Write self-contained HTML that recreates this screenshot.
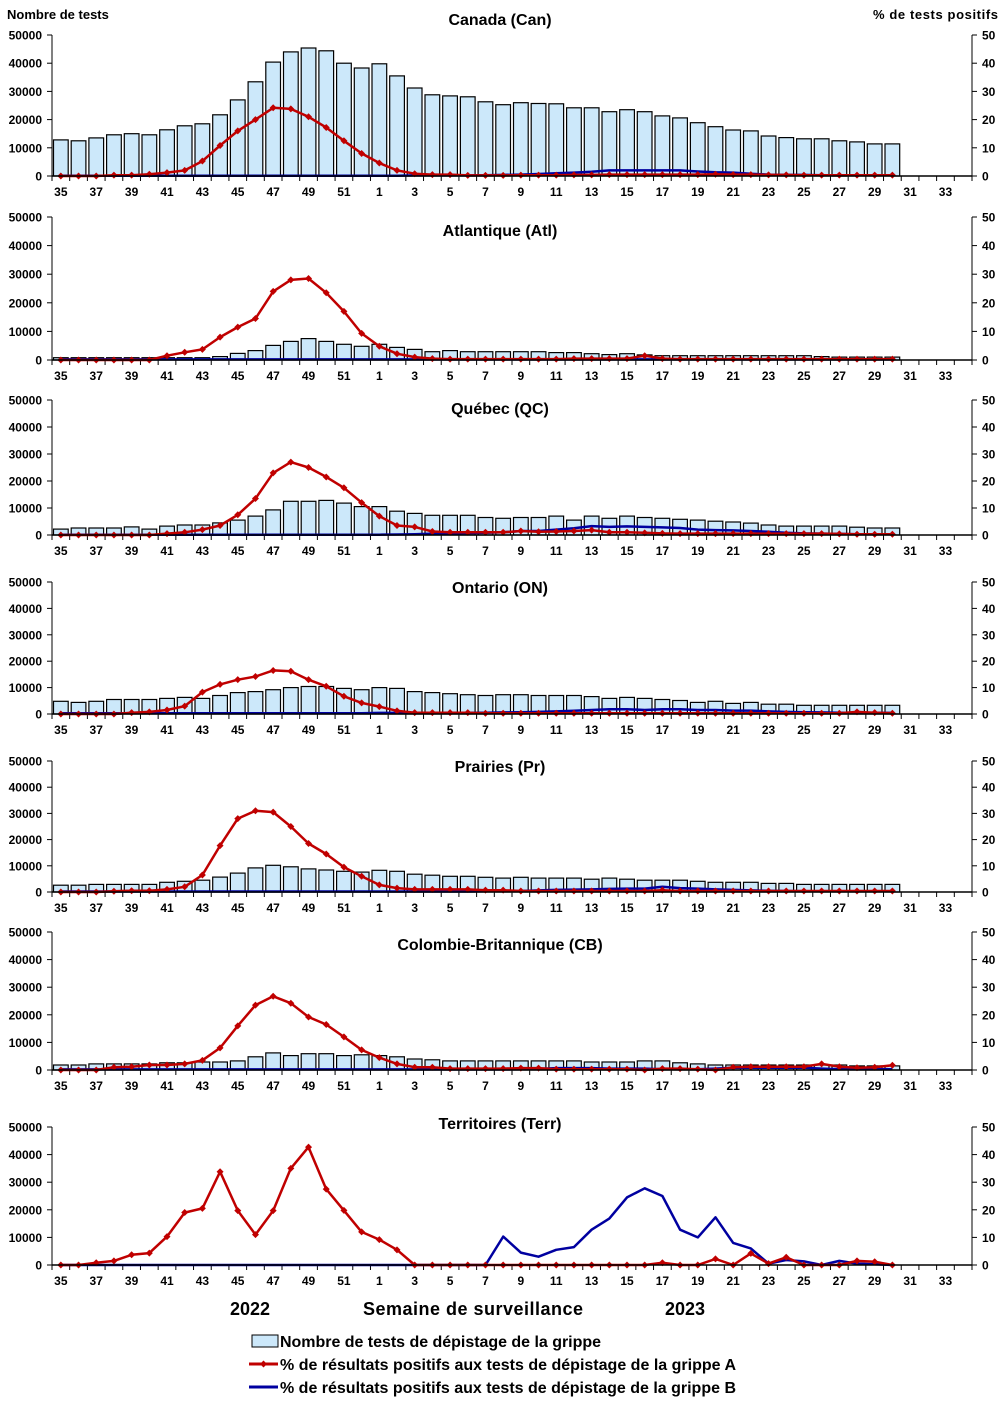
<!DOCTYPE html>
<html lang="fr"><head><meta charset="utf-8"><title>Tests de dépistage de la grippe</title>
<style>
html,body{margin:0;padding:0;background:#fff;}
svg{display:block;font-family:"Liberation Sans",Arial,sans-serif;}
</style></head>
<body>
<svg id="chart" width="1002" height="1411" viewBox="0 0 1002 1411" xmlns="http://www.w3.org/2000/svg">
<text x="7" y="19" font-size="13" font-weight="bold">Nombre de tests</text>
<text x="998" y="19" font-size="13" font-weight="bold" text-anchor="end" textLength="125">%  de tests positifs</text>
<text x="250" y="1315" font-size="18" font-weight="bold" text-anchor="middle">2022</text>
<text x="473" y="1315" font-size="18" font-weight="bold" text-anchor="middle" textLength="220">Semaine de surveillance</text>
<text x="685" y="1315" font-size="18" font-weight="bold" text-anchor="middle">2023</text>
<g>
<g>
<rect x="252" y="1335" width="26" height="12" fill="#cce8fa" stroke="#000" stroke-width="1"/>
<text x="280" y="1347" font-size="16" font-weight="bold" textLength="321">Nombre de tests de dépistage de la grippe</text>
</g>
<g>
<line x1="249" y1="1364" x2="278" y2="1364" stroke="#c00000" stroke-width="3"/>
<path d="M263.5 1360.5 L267 1364 L263.5 1367.5 L260 1364 Z" fill="#c00000"/>
<text x="280" y="1370" font-size="16" font-weight="bold" textLength="456">% de résultats positifs aux tests de dépistage de la grippe A</text>
</g>
<g>
<line x1="249" y1="1387" x2="278" y2="1387" stroke="#0000a0" stroke-width="3"/>
<text x="280" y="1393" font-size="16" font-weight="bold" textLength="456">% de résultats positifs aux tests de dépistage de la grippe B</text>
</g>
</g>
</svg>
<script>
// ---- data ----
const weekLabels = [35,36,37,38,39,40,41,42,43,44,45,46,47,48,49,50,51,52,1,2,3,4,5,6,7,8,9,10,11,12,13,14,15,16,17,18,19,20,21,22,23,24,25,26,27,28,29,30,31,32,33,34];
const leftTicks = [0,10000,20000,30000,40000,50000];
const rightTicks = [0,10,20,30,40,50];
const regionNames = ["Canada (Can)","Atlantique (Atl)","Québec (QC)","Ontario (ON)","Prairies (Pr)","Colombie-Britannique (CB)","Territoires (Terr)"];

const testsCan = [12800,12500,13500,14600,15000,14600,16400,17800,18500,21700,27000,33400,40400,44000,45400,44400,40000,38300,39800,35500,31200,28800,28400,28100,26300,25300,26000,25700,25600,24200,24200,22800,23500,22800,21300,20600,18900,17500,16300,16000,14200,13600,13200,13200,12500,12100,11400,11400];
const fluACan = [0,0,0,0.3,0.3,0.6,1.2,2,5.3,10.8,16,20,24.2,23.8,21,17.2,12.5,8,4.6,2,0.8,0.5,0.5,0.2,0.2,0.2,0.3,0.3,0.3,0.4,0.4,0.5,0.5,0.5,0.5,0.5,0.5,0.6,0.5,0.5,0.4,0.4,0.3,0.3,0.3,0.3,0.3,0.3];
const fluBCan = [0.1,0.1,0.1,0.1,0.1,0.1,0.1,0.1,0.1,0.1,0.1,0.1,0.1,0.1,0.1,0.1,0.1,0.1,0.1,0.1,0.2,0.2,0.2,0.2,0.3,0.4,0.5,0.7,1,1.2,1.5,2,2,2,2,2,1.6,1.3,1.2,0.8,0.5,0.4,0.4,0.3,0.3,0.3,0.3,0.3];

const testsAtl = [800,800,800,800,800,800,800,800,800,1200,2300,3300,5100,6500,7500,6500,5500,4800,5500,4400,3700,2900,3300,2900,2900,2900,2900,2900,2600,2600,2200,1900,2200,1800,1500,1500,1500,1500,1500,1500,1500,1500,1500,1200,1000,1000,1000,1000];
const fluAAtl = [0,0,0,0,0,0,1.5,2.7,3.7,8,11.5,14.5,24,28,28.5,23.5,17,9.3,4.8,2.2,1,0.5,0.3,0.3,0.3,0.3,0.3,0.3,0.3,0.5,0.5,0.5,0.5,1.5,0.5,0.3,0.3,0.3,0.3,0.3,0.3,0.3,0.3,0.3,0.3,0.3,0.3,0.3];
const fluBAtl = [0.2,0.2,0.2,0.2,0.2,0.2,0.2,0.2,0.2,0.2,0.2,0.2,0.2,0.2,0.2,0.2,0.2,0.2,0.2,0.2,0.2,0.2,0.2,0.2,0.2,0.2,0.2,0.2,0.2,0.2,0.2,0.2,0.2,0.2,0.2,0.2,0.2,0.2,0.2,0.2,0.2,0.2,0.2,0.2,0.2,0.2,0.2,0.2];

const testsQC = [2200,2600,2600,2600,3000,2200,3300,3700,3700,4500,5500,7000,9300,12500,12500,12800,11800,10500,10500,8800,8000,7300,7300,7300,6500,6200,6500,6500,7000,5500,7000,6200,7000,6500,6200,5800,5500,5100,4800,4400,3700,3300,3300,3300,3300,2900,2600,2600];
const fluAQC = [0,0,0,0,0,0,0.5,1,2,3.5,7.5,13.5,23,27,25,21.5,17.5,12,7,3.5,3,1.3,1,1,1,1,1.5,1.2,1.3,1.5,1.8,1,1,0.8,0.6,0.5,0.5,0.5,0.5,0.5,0.5,0.5,0.5,0.5,0.4,0.3,0.3,0.3];
const fluBQC = [0.1,0.1,0.1,0.1,0.1,0.1,0.1,0.1,0.1,0.1,0.1,0.1,0.1,0.1,0.1,0.1,0.1,0.1,0.1,0.2,0.3,0.5,0.6,0.7,0.8,1,1.5,1.5,2,2.5,3.3,3,3.2,3,2.8,2.6,2,1.8,1.7,1.5,1.2,0.8,0.6,0.5,0.4,0.3,0.3,0.3];

const testsON = [4800,4400,4800,5500,5500,5500,5900,6300,5900,7000,8100,8500,9200,10000,10400,10400,9700,9200,10000,9700,8500,8100,7700,7300,7000,7300,7300,7000,7000,7000,6600,5900,6300,5900,5500,5100,4400,4800,4000,4400,3700,3700,3300,3300,3300,3300,3300,3300];
const fluAON = [0,0,0,0,0.5,0.8,1.5,3,8.3,11.2,13,14.2,16.5,16.2,13,10.5,6.7,4.2,2.8,1.2,0.5,0.5,0.5,0.5,0.3,0.3,0.3,0.3,0.3,0.3,0.3,0.3,0.3,0.3,0.3,0.3,0.3,0.3,0.3,0.3,0.3,0.3,0.3,0.3,0.3,0.8,0.5,0.3];
const fluBON = [0.3,0.3,0.3,0.3,0.3,0.3,0.3,0.3,0.3,0.3,0.3,0.3,0.3,0.3,0.3,0.3,0.3,0.3,0.4,0.4,0.5,0.5,0.5,0.5,0.5,0.6,0.7,0.8,1,1.2,1.5,1.8,1.8,1.5,1.8,1.8,1.5,1.5,1.3,1.3,1,0.8,0.7,0.6,0.5,0.5,0.5,0.4];

const testsPr = [2600,2600,2900,2900,2900,2900,3700,4100,4500,5700,7200,9200,10200,9600,8800,8400,7900,7600,8300,7900,6800,6400,6000,6000,5600,5300,5600,5300,5300,5300,4900,5300,4900,4500,4500,4500,4100,3700,3700,3700,3300,3300,2900,2900,2900,2900,2900,2900];
const fluAPr = [0,0,0,0.3,0.5,0.5,1,2,6.5,17.7,28,31,30.5,25,18.5,14.5,9.5,6,2.7,1.5,1,1,1,1,0.7,0.7,0.4,0.4,0.4,0.4,0.4,0.4,0.4,0.4,0.7,0.4,0.4,0.4,0.4,0.4,0.4,0.4,0.4,0.4,0.4,0.4,0.4,0.4];
const fluBPr = [0.2,0.2,0.2,0.2,0.2,0.2,0.2,0.2,0.2,0.2,0.2,0.2,0.2,0.2,0.2,0.2,0.2,0.2,0.2,0.2,0.2,0.2,0.2,0.2,0.3,0.3,0.4,0.6,0.8,0.9,1,1.2,1.3,1.3,2,1.5,1.3,1,0.8,0.6,0.5,0.4,0.3,0.3,0.3,0.3,0.3,0.3];

const testsCB = [1800,1800,2200,2200,2200,2200,2600,2600,2900,2900,3300,4800,6200,5200,5900,5900,5200,5500,5200,4800,4000,3700,3300,3300,3300,3300,3300,3300,3300,3300,2900,2900,2900,3300,3300,2600,2200,1800,1800,1800,1800,1800,1800,1800,1800,1500,1500,1500];
const fluACB = [0,0,0,1,1.2,1.8,1.8,2.2,3.5,8,16,23.5,26.7,24.2,19.2,16.5,12,7.3,4.5,2.2,1,1,0.5,0.5,0.5,0.5,0.7,0.7,0.3,0.3,0.3,0.3,0.3,0,0.5,0.5,0.3,0,1,1.2,1.2,1.2,1.2,2.2,1.2,0.8,1,1.7];
const fluBCB = [0.2,0.2,0.2,0.2,0.2,0.2,0.2,0.2,0.2,0.2,0.2,0.2,0.2,0.2,0.2,0.2,0.2,0.2,0.2,0.2,0.2,0.2,0.2,0.2,0.2,0.2,0.3,0.4,0.7,0.7,0.7,0.5,0.5,0.5,0.3,0.3,0.3,0.5,0.8,0.8,0.8,0.8,0.8,0.5,0.3,0.3,0.3,0.3];

const testsTerr = [0,0,0,0,0,0,0,0,0,0,0,0,0,0,0,0,0,0,0,0,0,0,0,0,0,0,0,0,0,0,0,0,0,0,0,0,0,0,0,0,0,0,0,0,0,0,0,0];
const fluATerr = [0,0,0.8,1.5,3.7,4.3,10.3,19,20.5,33.8,19.7,11,19.7,35,42.7,27.5,19.8,12,9.2,5.5,0,0,0,0,0,0,0,0,0,0,0,0,0,0,0.8,0,0,2.2,0,4.2,0.5,2.8,0,0,0,1.5,1.2,0];
const fluBTerr = [0,0,0,0,0,0,0,0,0,0,0,0,0,0,0,0,0,0,0,0,0,0,0,0,0,10.3,4.5,3,5.5,6.5,12.8,16.8,24.5,27.8,25,12.8,10,17.3,8,6,0.5,1.8,1.3,0,1.5,0.5,0.3,0];

const testsSeries = [testsCan,testsAtl,testsQC,testsON,testsPr,testsCB,testsTerr];
const fluASeries = [fluACan,fluAAtl,fluAQC,fluAON,fluAPr,fluACB,fluATerr];
const fluBSeries = [fluBCan,fluBAtl,fluBQC,fluBON,fluBPr,fluBCB,fluBTerr];

// ---- layout ----
const panelTops = [35,217,400,582,761,932,1127];
const panelBottoms = [176,360,535,714,892,1070,1265];
const titleYs = [25,236,414,593,772,950,1129];
const X0 = 52, X1 = 972, NW = weekLabels.length, SW = (X1 - X0) / NW;
const NS = "http://www.w3.org/2000/svg";
const svg = document.getElementById('chart');
function mk(tag, attrs, parent){ const e=document.createElementNS(NS,tag); for(const k in attrs) e.setAttribute(k,attrs[k]); (parent||svg).appendChild(e); return e; }
function xc(i){ return X0 + SW*(i+0.5); }

regionNames.forEach((name, p) => {
  const top = panelTops[p], bot = panelBottoms[p], H = bot - top;
  const yL = v => bot - v / 50000 * H;
  const yR = v => bot - v / 50 * H;
  const g = mk('g', {});
  
  

  const t = mk('text', {x:500, y:titleYs[p], 'font-size':16, 'font-weight':'bold', 'text-anchor':'middle'}, g);
  
  
  t.textContent = name;

  const bars = mk('g', {}, g);
  
  
  testsSeries[p].forEach((v, i) => {
    if (v <= 0) return;
    const r = mk('rect', {x:(X0+SW*i+1.5).toFixed(1), y:yL(v).toFixed(1), width:(SW-3).toFixed(1), height:(bot-yL(v)).toFixed(1), fill:'#cce8fa', stroke:'#000', 'stroke-width':1.2}, bars);
    
    
  });

  mk('line', {x1:X0, y1:top, x2:X0, y2:bot, stroke:'#000', 'stroke-width':1}, g);
  mk('line', {x1:X1, y1:top, x2:X1, y2:bot, stroke:'#000', 'stroke-width':1}, g);
  leftTicks.forEach(v => {
    mk('line', {x1:X0-5, y1:yL(v), x2:X0, y2:yL(v), stroke:'#000'}, g);
    const tl = mk('text', {x:42, y:yL(v)+4.5, 'font-size':12, 'font-weight':'bold', 'text-anchor':'end'}, g);
    
    
    tl.textContent = v;
  });
  rightTicks.forEach(v => {
    mk('line', {x1:X1, y1:yR(v), x2:X1+5, y2:yR(v), stroke:'#000'}, g);
    const tr = mk('text', {x:982, y:yR(v)+4.5, 'font-size':12, 'font-weight':'bold'}, g);
    
    
    tr.textContent = v;
  });
  for (let i = 0; i <= NW; i++) mk('line', {x1:X0+SW*i, y1:bot, x2:X0+SW*i, y2:bot+5, stroke:'#000'}, g);
  weekLabels.forEach((w, i) => {
    if (i % 2) return;
    const xl = mk('text', {x:xc(i), y:bot+20, 'font-size':12, 'font-weight':'bold', 'text-anchor':'middle'}, g);
    
    
    xl.textContent = w;
  });

  const ptsB = fluBSeries[p].map((v,i) => xc(i).toFixed(1)+','+yR(v).toFixed(1)).join(' ');
  const lb = mk('polyline', {points:ptsB, fill:'none', stroke:'#0000a0', 'stroke-width':2.5, 'stroke-linejoin':'round'}, g);
  
  
  const ptsA = fluASeries[p].map((v,i) => xc(i).toFixed(1)+','+yR(v).toFixed(1)).join(' ');
  const la = mk('polyline', {points:ptsA, fill:'none', stroke:'#c00000', 'stroke-width':2.5, 'stroke-linejoin':'round'}, g);
  
  
  fluASeries[p].forEach((v,i) => {
    const cx = xc(i), cy = yR(v);
    const m = mk('path', {d:`M${cx} ${cy-3.5} L${cx+3.5} ${cy} L${cx} ${cy+3.5} L${cx-3.5} ${cy} Z`, fill:'#c00000'}, g);
    
    
  });
  mk('line', {x1:X0, y1:bot, x2:X1, y2:bot, stroke:'#000', 'stroke-width':1.5}, g);
});
</script>
</body></html>
